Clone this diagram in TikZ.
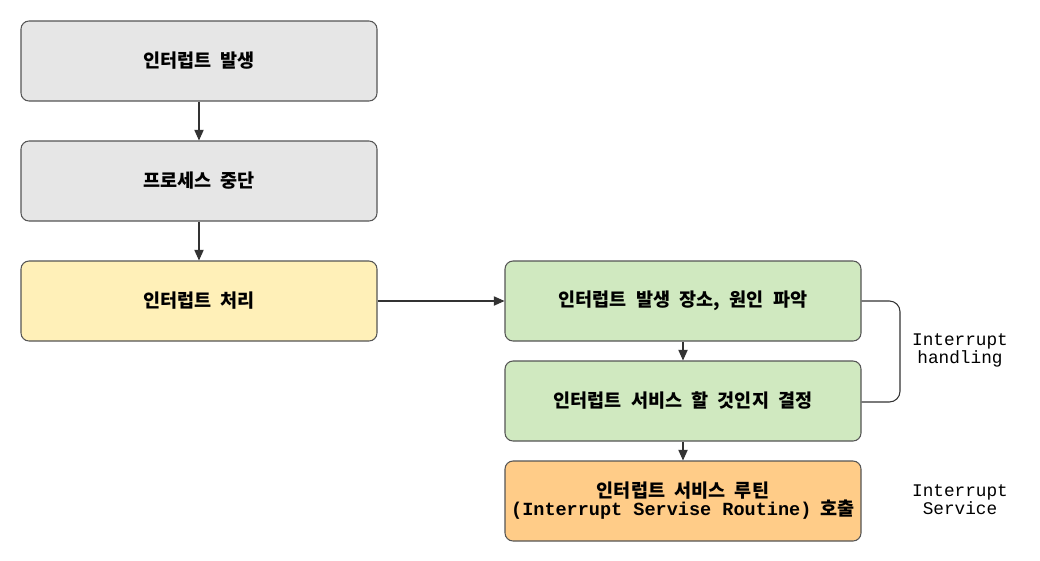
\documentclass[tikz,border=0pt]{standalone}
\usepackage{fontspec}
\setmonofont{Liberation Mono}
\newfontfamily\kr{Noto Sans CJK KR}[WordSpace=2.2]
\usetikzlibrary{arrows.meta}
\definecolor{gfill}{HTML}{E6E6E6}
\definecolor{yfill}{HTML}{FFF0B8}
\definecolor{grfill}{HTML}{D0E9C0}
\definecolor{ofill}{HTML}{FFCC88}
\definecolor{strokec}{HTML}{555555}
\definecolor{linec}{HTML}{333333}
\tikzset{
  box/.style={draw=strokec, line width=0.8pt, rounded corners=6pt, minimum width=267pt, minimum height=60pt, inner sep=0pt, align=center, font=\kr\bfseries\fontsize{13.9pt}{13.6pt}\selectfont},
  conn/.style={draw=linec, line width=0.8pt, -{Triangle[length=8pt,width=7pt]}},
  side/.style={align=center, font=\ttfamily\fontsize{13.3pt}{13.5pt}\selectfont, text=black}
}
\begin{document}
\begin{tikzpicture}[x=0.75pt,y=-0.75pt]
\useasboundingbox (0,0) rectangle (1040,561);
\node[box, fill=gfill] (a) at (199,61) {인터럽트 발생};
\node[box, fill=gfill] (b) at (199,181) {프로세스 중단};
\node[box, fill=yfill] (c) at (199,301) {인터럽트 처리};
\node[box, fill=grfill] (d) at (683,301) {인터럽트 발생 장소, 원인 파악};
\node[box, fill=grfill] (e) at (683,401) {인터럽트 서비스 할 것인지 결정};
\node[box, fill=ofill] (f) at (683,501) {인터럽트 서비스 루틴\\{\ttfamily\bfseries\fontsize{13.9pt}{13.6pt}\selectfont (Interrupt Servise Routine)} 호출};
\draw[conn] (a) -- (b);
\draw[conn] (b) -- (c);
\draw[conn] (c) -- (d);
\draw[conn] (d) -- (e);
\draw[conn] (e) -- (f);
\coordinate (br1) at (900,301);
\coordinate (br2) at (900,402);
\draw[draw=linec, line width=0.8pt, rounded corners=8pt] (d.east) -- (br1) -- (br2) -- (e.east |- br2);
\node[side] (h) at (960,350) {Interrupt\\handling};
\node[side] (s) at (960,500) {Interrupt\\Service};
\end{tikzpicture}
\end{document}
